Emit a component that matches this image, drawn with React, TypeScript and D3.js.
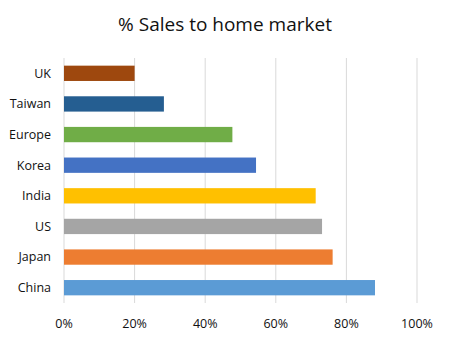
import React from "react";
import * as d3 from "d3";

const categories = ["UK", "Taiwan", "Europe", "Korea", "India", "US", "Japan", "China"];
const values = [20, 28.3, 47.7, 54.4, 71.3, 73.1, 76.1, 88.1];
const colors = ["#9E480E", "#255E91", "#70AD47", "#4472C4", "#FFC000", "#A5A5A5", "#ED7D31", "#5B9BD5"];
const ticks = [0, 20, 40, 60, 80, 100];
const title = "% Sales to home market";

const W = 450;
const H = 341;
const margin = { left: 64, right: 33, top: 58, bottom: 38 };
const font = "'Open Sans', 'Noto Sans', sans-serif";

export default function App() {
  const x = d3.scaleLinear().domain([0, 100]).range([margin.left, W - margin.right]);
  const y = d3
    .scaleBand<string>()
    .domain(categories)
    .range([margin.top, H - margin.bottom])
    .paddingInner(0.5)
    .paddingOuter(0.25);

  return (
    <svg
      width={W}
      height={H}
      style={{ position: "absolute", left: 0, top: 0, background: "#fff" }}
      fontFamily={font}
    >
      <text x={W / 2} y={31} textAnchor="middle" fontSize={19} fill="#111">
        {title}
      </text>
      {ticks.map((t) => (
        <g key={t}>
          <line
            x1={x(t)}
            x2={x(t)}
            y1={margin.top}
            y2={H - margin.bottom}
            stroke="#d9d9d9"
            strokeWidth={1}
          />
          <text x={x(t)} y={328} textAnchor="middle" fontSize={12.5} fill="#111">
            {t}%
          </text>
        </g>
      ))}
      {categories.map((c, i) => (
        <g key={c}>
          <rect
            x={x(0)}
            y={y(c)}
            width={x(values[i]) - x(0)}
            height={y.bandwidth()}
            fill={colors[i]}
          />
          <text
            x={51}
            y={(y(c) as number) + y.bandwidth() / 2}
            dy="0.35em"
            textAnchor="end"
            fontSize={12.5}
            fill="#111"
          >
            {c}
          </text>
        </g>
      ))}
    </svg>
  );
}
